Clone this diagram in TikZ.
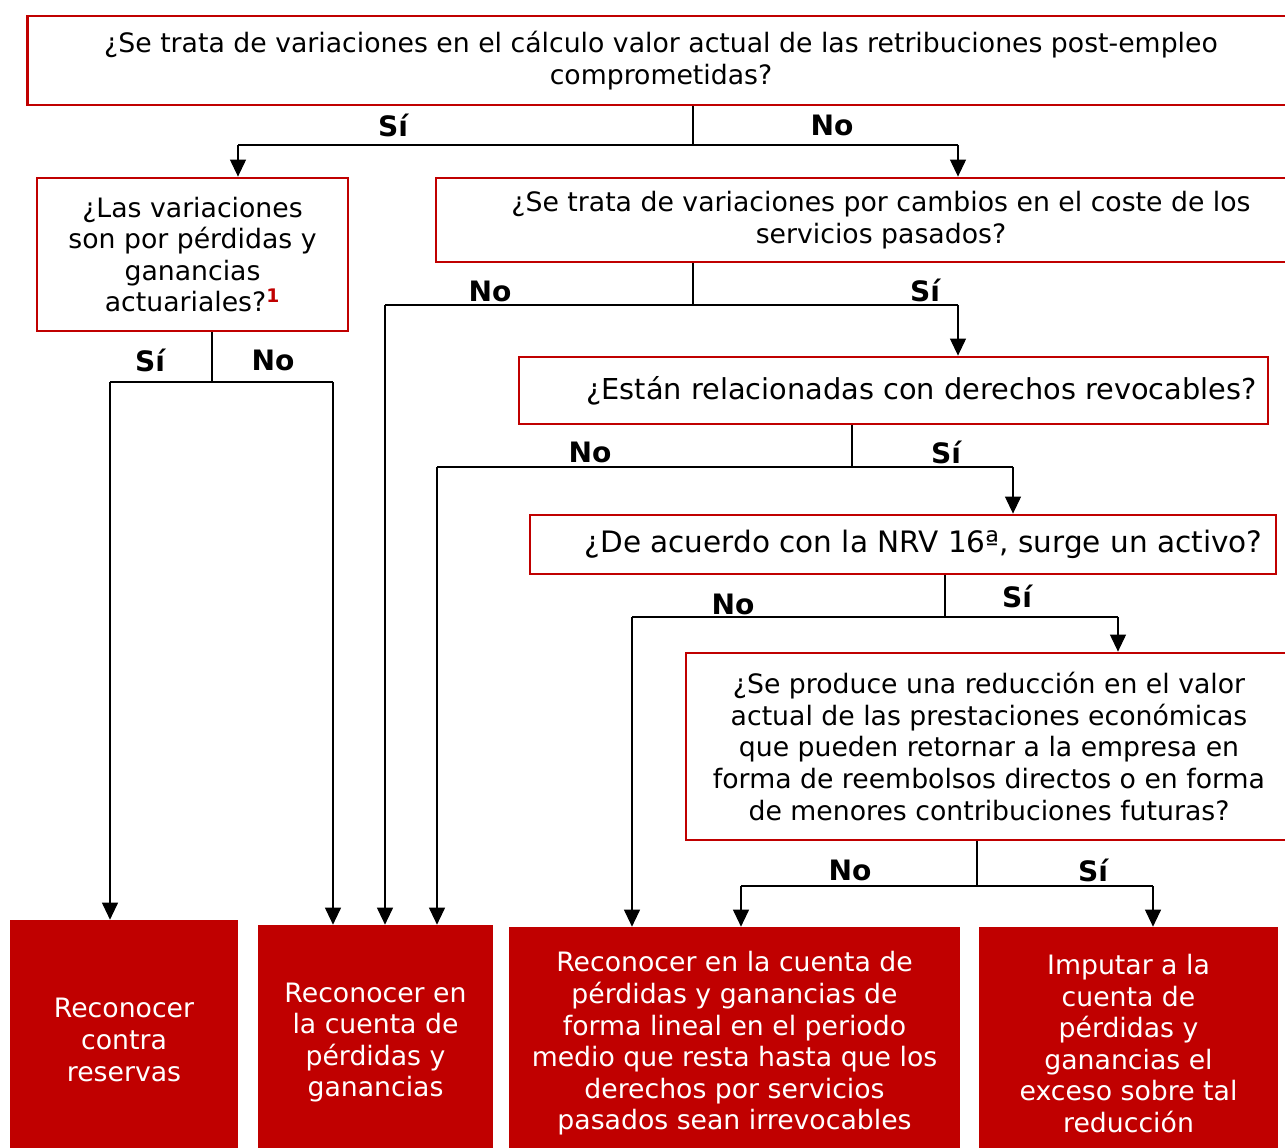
\documentclass[tikz,border=0pt]{standalone}
\usepackage{fontspec}
\setmainfont{DejaVu Sans}
\usetikzlibrary{arrows.meta,positioning,calc}
\definecolor{nrvred}{HTML}{C00000}
\tikzset{
  qbox/.style       = {draw=nrvred, line width=1.6pt, fill=white, align=center, inner sep=2pt},
  endbox/.style     = {fill=nrvred, text=white, align=center, inner sep=2pt},
  sig/.style        = {-{Triangle[length=3.4mm,width=3.2mm]}, line width=0.6pt},
  wire/.style       = {line width=0.6pt},
  every node/.style = {font=\fontsize{15.2}{18}\selectfont},
  bigq/.style       = {font=\fontsize{16.8}{20}\selectfont},
  lbl/.style        = {font=\fontsize{16}{18}\selectfont\bfseries, inner sep=1pt},
}

\begin{document}
\begin{tikzpicture}[x=0.02cm, y=-0.02cm]
  \useasboundingbox (0,0) rectangle (1285,1148);
  \clip (0,0) rectangle (1285,1148);
  % questions
  \node[qbox, minimum width=25.36cm, minimum height=1.78cm] (q1) at (661,60.5)
    {¿Se trata de variaciones en el cálculo valor actual de las retribuciones post-empleo\\comprometidas?};
  \node[qbox, minimum width=6.22cm, minimum height=3.06cm] (q2) at (192.5,254.5)
    {¿Las variaciones\\son por pérdidas y\\ganancias\\actuariales?\textsuperscript{\textcolor{nrvred}{\bfseries 1}}};
  \node[qbox, minimum width=17.8cm, minimum height=1.68cm] (q3) at (881,220)
    {¿Se trata de variaciones por cambios en el coste de los\\servicios pasados?};
  \node[qbox, bigq, font=\fontsize{16.4}{20}\selectfont, minimum width=14.98cm, minimum height=1.34cm] (q4) at (893.5,390.5)
    {\hspace*{1.12cm}¿Están relacionadas con derechos revocables?};
  \node[qbox, bigq, minimum width=14.92cm, minimum height=1.18cm] (q5) at (903,544.5)
    {\hspace*{0.82cm}¿De acuerdo con la NRV 16ª, surge un activo?};
  \node[qbox, minimum width=12.12cm, minimum height=3.74cm] (q6) at (989,746.5)
    {¿Se produce una reducción en el valor\\actual de las prestaciones económicas\\que pueden retornar a la empresa en\\forma de reembolsos directos o en forma\\de menores contribuciones futuras?};
  % outcomes
  \node[endbox, minimum width=4.56cm, minimum height=4.8cm] (e1) at (124,1040)
    {Reconocer\\contra\\reservas};
  \node[endbox, minimum width=4.7cm, minimum height=4.7cm] (e2) at (375.5,1042.5)
    {Reconocer en\\la cuenta de\\pérdidas y\\ganancias};
  \node[endbox, minimum width=9.02cm, minimum height=4.66cm] (e3) at (734.5,1043.5)
    {Reconocer en la cuenta de\\pérdidas y ganancias de\\forma lineal en el periodo\\medio que resta hasta que los\\derechos por servicios\\pasados sean irrevocables};
  \node[endbox, minimum width=5.98cm, minimum height=4.66cm] (e4) at (1128.5,1043.5)
    {Imputar a la\\cuenta de\\pérdidas y\\ganancias el\\exceso sobre tal\\reducción};

  % q1 -> q2 / q3
  \coordinate (j1) at (693,145);
  \coordinate (j1l) at (238,145);
  \coordinate (j1r) at (958,145);
  \draw[wire] (q1.south -| j1) -- (j1);
  \draw[wire] (j1l) -- (j1r);
  \draw[sig] (j1l) -- (q2.north -| j1l);
  \draw[sig] (j1r) -- (q3.north -| j1r);
  \node[lbl] (si1) at (393,125) {Sí};
  \node[lbl] (no1) at (832,125) {No};

  % q2 -> e1 / e2
  \coordinate (j2) at (212,382);
  \coordinate (j2l) at (110,382);
  \coordinate (j2r) at (333,382);
  \draw[wire] (q2.south -| j2) -- (j2);
  \draw[wire] (j2l) -- (j2r);
  \draw[sig] (j2l) -- (e1.north -| j2l);
  \draw[sig] (j2r) -- (e2.north -| j2r);
  \node[lbl] (si2) at (150,360) {Sí};
  \node[lbl] (no2) at (273,360) {No};

  % q3 -> e2 / q4
  \coordinate (j3) at (693,305);
  \coordinate (j3l) at (385,305);
  \coordinate (j3r) at (958,305);
  \draw[wire] (q3.south -| j3) -- (j3);
  \draw[wire] (j3l) -- (j3r);
  \draw[sig] (j3l) -- (e2.north -| j3l);
  \draw[sig] (j3r) -- (q4.north -| j3r);
  \node[lbl] (no3) at (490,291) {No};
  \node[lbl] (si3) at (925,290) {Sí};

  % q4 -> e2 / q5
  \coordinate (j4) at (852,467);
  \coordinate (j4l) at (437,467);
  \coordinate (j4r) at (1013,467);
  \draw[wire] (q4.south -| j4) -- (j4);
  \draw[wire] (j4l) -- (j4r);
  \draw[sig] (j4l) -- (e2.north -| j4l);
  \draw[sig] (j4r) -- (q5.north -| j4r);
  \node[lbl] (no4) at (590,452) {No};
  \node[lbl] (si4) at (946,452) {Sí};

  % q5 -> e3 / q6
  \coordinate (j5) at (945,617);
  \coordinate (j5l) at (632,617);
  \coordinate (j5r) at (1118,617);
  \draw[wire] (q5.south -| j5) -- (j5);
  \draw[wire] (j5l) -- (j5r);
  \draw[sig] (j5l) -- (e3.north -| j5l);
  \draw[sig] (j5r) -- (q6.north -| j5r);
  \node[lbl] (no5) at (733,604) {No};
  \node[lbl] (si5) at (1017,596) {Sí};

  % q6 -> e3 / e4
  \coordinate (j6) at (977,886);
  \coordinate (j6l) at (741,886);
  \coordinate (j6r) at (1153,886);
  \draw[wire] (q6.south -| j6) -- (j6);
  \draw[wire] (j6l) -- (j6r);
  \draw[sig] (j6l) -- (e3.north -| j6l);
  \draw[sig] (j6r) -- (e4.north -| j6r);
  \node[lbl] (no6) at (850,870) {No};
  \node[lbl] (si6) at (1093,870) {Sí};
\end{tikzpicture}
\end{document}
